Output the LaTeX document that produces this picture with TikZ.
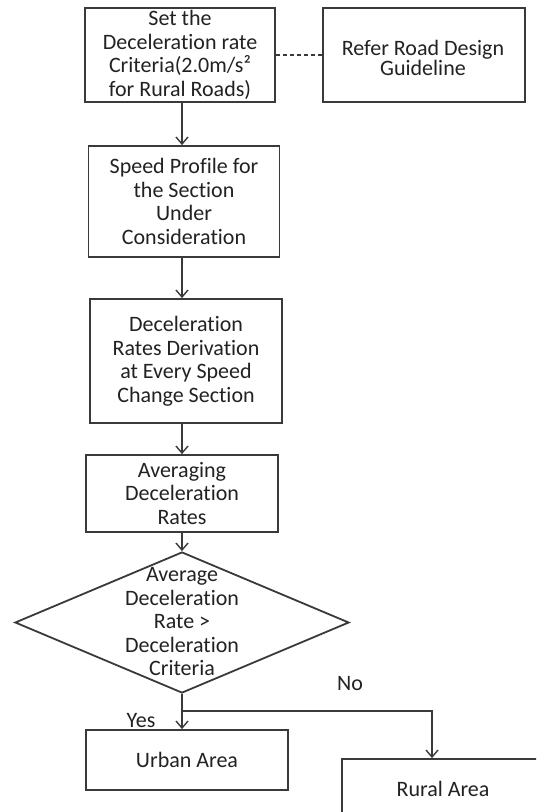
\documentclass[tikz,border=0pt]{standalone}
\usepackage{fontspec}
\setmainfont{Carlito}[Ligatures={NoCommon}]
\usetikzlibrary{shapes.geometric,arrows.meta}
\definecolor{linec}{HTML}{3A3A3A}
\definecolor{textc}{HTML}{222222}
\tikzset{
  flowbox/.style={draw=linec, line width=1.8pt, align=center, inner sep=0pt, text=textc,
    font=\fontsize{22}{23.5}\selectfont},
  flowarrow/.style={draw=linec, line width=1.6pt, -{Straight Barb[length=7pt,width=12pt,line width=1.4pt]}},
  flowline/.style={draw=linec, line width=1.6pt},
  lbl/.style={text=textc, font=\fontsize{22}{23}\selectfont, inner sep=0pt}
}
\begin{document}
\begin{tikzpicture}[x=1pt,y=-1pt]
\clip (0,0) rectangle (536,812);
\fill[white] (0,0) rectangle (536,812);
\node[flowbox, minimum width=190, minimum height=94] (b1) at (180,55)
  {Set the\\Deceleration rate\\Criteria(2.0m/s²\\for Rural Roads)};
\node[flowbox, minimum width=202, minimum height=94] (ref) at (424,55) {};
\node[flowbox, draw=none, font=\fontsize{22}{20.5}\selectfont] (reft) at (423,58)
  {Refer Road Design\\Guideline};
\node[flowbox, minimum width=191, minimum height=111] (b2) at (184,201.5)
  {Speed Profile for\\the Section\\Under\\Consideration};
\node[flowbox, minimum width=192, minimum height=124] (b3) at (186,361)
  {Deceleration\\Rates Derivation\\at Every Speed\\Change Section};
\node[flowbox, minimum width=192, minimum height=77] (b4) at (182,493.5)
  {Averaging\\Deceleration\\Rates};
\node[diamond, draw=linec, line width=1.8pt, inner sep=0pt, minimum width=334, minimum height=141] (dec) at (182,622.5) {};
\node[flowbox, draw=none] (dect) at (182,622) {Average\\Deceleration\\Rate >\\Deceleration\\Criteria};
\node[flowbox, minimum width=202, minimum height=60] (urban) at (187,760) {Urban Area};
\node[flowbox, minimum width=202, minimum height=60] (rural) at (443,789) {Rural Area};
\coordinate (j) at (182,711);
\coordinate (k) at (432,711);
\draw[flowline, dashed, dash pattern=on 4pt off 3pt] (b1.east) -- (ref.west);
\draw[flowarrow] (b1.south -| 182,0) -- (b2.north -| 182,0);
\draw[flowarrow] (b2.south -| 182,0) -- (b3.north -| 182,0);
\draw[flowarrow] (b3.south -| 182,0) -- (b4.north -| 182,0);
\draw[flowarrow] (b4.south -| 182,0) -- (dec.north);
\draw[flowarrow] (dec.south) -- (j) -- (urban.north -| j);
\draw[flowarrow] (j) -- (k) -- (rural.north -| k);
\node[lbl] (no) at (350,684) {No};
\node[lbl] (yes) at (141,721) {Yes};
\end{tikzpicture}
\end{document}
